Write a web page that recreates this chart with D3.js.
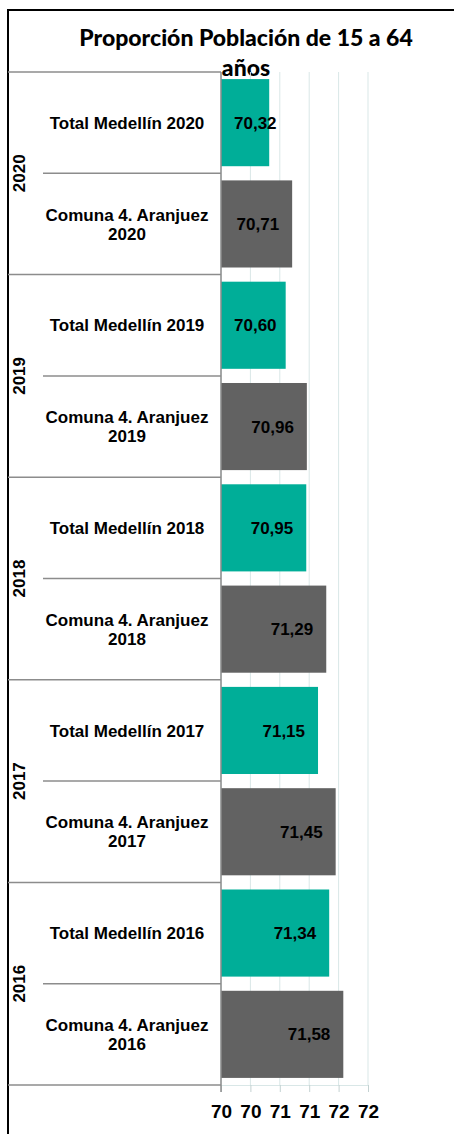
<!DOCTYPE html>
<html>
<head>
<meta charset="utf-8">
<script src="https://cdn.jsdelivr.net/npm/d3@7"></script>
<style>
    body { margin: 0; background: #fff; }
    svg { display: block; }
    text { font-family: "Liberation Sans", Arial, sans-serif; font-weight: bold; fill: #000; }
</style>
</head>
<body>
<div id="chart"></div>
<script>
// Chart data (top to bottom)
const years = ["2020", "2019", "2018", "2017", "2016"];
const medellin = [70.32, 70.60, 70.95, 71.15, 71.34];
const aranjuez = [70.71, 70.96, 71.29, 71.45, 71.58];
const tickValues = [69.5, 70, 70.5, 71, 71.5, 72];
const tickLabels = ["70", "70", "71", "71", "72", "72"];
const titleLines = ["Proporción Población de 15 a 64", "años"];

const colorMedellin = "#00ae98";
const colorAranjuez = "#626262";

// Build rows: each year has a Medellín row and an Aranjuez row
const rows = [];
years.forEach((y, i) => {
    rows.push({ key: "m" + y, year: y, lines: [`Total Medellín ${y}`], value: medellin[i], color: colorMedellin });
    rows.push({ key: "a" + y, year: y, lines: ["Comuna 4. Aranjuez", y], value: aranjuez[i], color: colorAranjuez });
});

const W = 454, H = 1134;
const plot = { left: 221, right: 368, top: 72, bottom: 1085 };

const svg = d3.select("#chart")
    .append("svg")
    .attr("width", W)
    .attr("height", H);

// Outer chart border
svg.append("rect")
    .attr("x", 8).attr("y", 10)
    .attr("width", W + 20).attr("height", H + 20)
    .attr("fill", "none")
    .attr("stroke", "#000")
    .attr("stroke-width", 2);

// Title
svg.append("g").selectAll("text")
    .data(titleLines)
    .enter().append("text")
    .attr("x", 246)
    .attr("y", (d, i) => 46 + i * 30)
    .attr("text-anchor", "middle")
    .style("font-family", "Lato, 'Open Sans', sans-serif")
    .style("font-size", "23px")
    .style("font-weight", "900")
    .text(d => d);

// Scales
const x = d3.scaleLinear()
    .domain([tickValues[0], tickValues[tickValues.length - 1]])
    .range([plot.left, plot.right]);

const y = d3.scaleBand()
    .domain(rows.map(d => d.key))
    .range([plot.top, plot.bottom])
    .paddingInner(0.14)
    .paddingOuter(0.07);

const band = (plot.bottom - plot.top) / rows.length;

// Vertical gridlines
svg.append("g")
    .selectAll("line")
    .data(tickValues)
    .enter().append("line")
    .attr("x1", d => x(d)).attr("x2", d => x(d))
    .attr("y1", plot.top).attr("y2", plot.bottom)
    .attr("stroke", "#d9e7e7")
    .attr("stroke-width", 1);

// Value axis at bottom
const xAxis = svg.append("g")
    .attr("transform", `translate(0,${plot.bottom})`)
    .call(d3.axisBottom(x)
        .tickValues(tickValues)
        .tickFormat((d, i) => tickLabels[i])
        .tickSize(7)
        .tickSizeOuter(0));
xAxis.select(".domain").attr("stroke", "#d9e7e7");
xAxis.selectAll(".tick line").attr("stroke", "#c4d2d2");
xAxis.selectAll(".tick text")
    .attr("y", 20)
    .style("font-size", "19px")
    .style("font-family", "'Liberation Sans', Arial, sans-serif")
    .style("font-weight", "bold")
    .attr("fill", "#000");

// Bars
svg.append("g")
    .selectAll("rect")
    .data(rows)
    .enter().append("rect")
    .attr("x", x(tickValues[0]))
    .attr("y", d => y(d.key))
    .attr("width", d => x(d.value) - x(tickValues[0]))
    .attr("height", y.bandwidth())
    .attr("fill", d => d.color);

// Value labels (inside end, clamped to the bar start)
const fmt = v => v.toFixed(2).replace(".", ",");
svg.append("g")
    .selectAll("text")
    .data(rows)
    .enter().append("text")
    .attr("y", d => y(d.key) + y.bandwidth() / 2)
    .attr("dy", "0.36em")
    .attr("text-anchor", "end")
    .style("font-size", "17px")
    .text(d => fmt(d.value))
    .attr("x", function (d) {
        const w = this.getComputedTextLength();
        return Math.max(x(d.value) - 13, x(tickValues[0]) + 13 + w);
    });

// Category axis: separators and labels
const cat = svg.append("g");
rows.forEach((d, i) => {
    const top = plot.top + i * band;
    // separator above each row: full width at year boundaries, short inside groups
    cat.append("line")
        .attr("x1", i % 2 === 0 ? 8 : 43)
        .attr("x2", plot.left)
        .attr("y1", top).attr("y2", top)
        .attr("stroke", "#8c8c8c")
        .attr("stroke-width", 1.5);

    const cy = top + band / 2;
    const lh = 19;
    cat.append("g").selectAll("text")
        .data(d.lines)
        .enter().append("text")
        .attr("x", 127)
        .attr("y", (t, j) => cy + (j - (d.lines.length - 1) / 2) * lh)
        .attr("dy", "0.36em")
        .attr("text-anchor", "middle")
        .style("font-size", "17px")
        .text(t => t);
});

// Bottom boundary of category axis
cat.append("line")
    .attr("x1", 8).attr("x2", plot.left)
    .attr("y1", plot.bottom).attr("y2", plot.bottom)
    .attr("stroke", "#8c8c8c")
    .attr("stroke-width", 1.5);

// Category axis vertical line
cat.append("line")
    .attr("x1", plot.left).attr("x2", plot.left)
    .attr("y1", plot.top).attr("y2", plot.bottom + 7)
    .attr("stroke", "#8c8c8c")
    .attr("stroke-width", 1.5);

// Year labels (rotated)
svg.append("g")
    .selectAll("text")
    .data(years)
    .enter().append("text")
    .attr("transform", (d, i) => `translate(19,${plot.top + (i * 2 + 1) * band}) rotate(-90)`)
    .attr("dy", "0.36em")
    .attr("text-anchor", "middle")
    .style("font-size", "17px")
    .text(d => d);
</script>
</body>
</html>
